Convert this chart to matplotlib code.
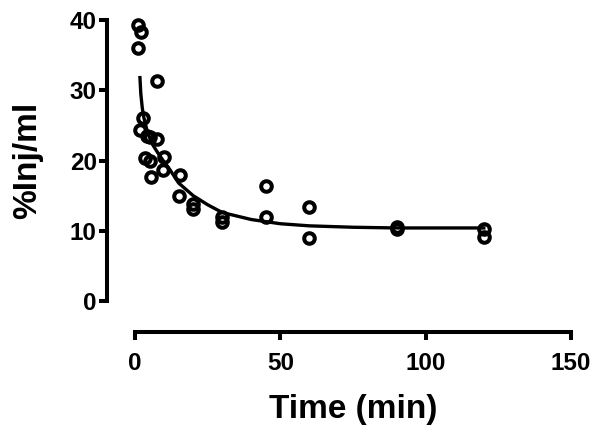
import numpy as np
import matplotlib
matplotlib.use("Agg")
import matplotlib.pyplot as plt

plt.rcParams['font.family'] = ['Liberation Sans', 'DejaVu Sans']
plt.rcParams['font.weight'] = 'bold'

# measured points (time in min, %Inj/ml)
time_pts = [1, 2, 1, 7.5, 2.7, 1.7, 4, 5, 7.5, 3.5, 5, 10, 5.5, 9.6, 15.5, 15,
            20, 20, 30, 30, 45, 45, 60, 60, 90, 90, 120, 120]
inj_pts = [39.3, 38.3, 36.0, 31.3, 26.0, 24.4, 23.5, 23.4, 23.0, 20.4, 20.0, 20.5,
           17.7, 18.6, 18.0, 14.9, 13.8, 13.1, 12.0, 11.3, 16.4, 12.0, 13.4, 9.0,
           10.6, 10.2, 10.3, 9.1]

# fitted curve
fit_t = [1.7, 2.0, 2.5, 3, 4, 5, 6, 8, 10, 12, 15, 20, 25, 30, 40, 45, 50, 60,
         75, 90, 105, 120]
fit_y = [31.8, 29.5, 27.5, 26.2, 24.5, 23.3, 22.3, 21.0, 19.8, 18.7, 16.8, 15.0,
         13.7, 12.6, 11.6, 11.3, 11.0, 10.7, 10.5, 10.4, 10.4, 10.4]

x_ticks = [0, 50, 100, 150]
y_ticks = [0, 10, 20, 30, 40]

fig = plt.figure(figsize=(6, 4.36), dpi=100)
ax = fig.add_axes([0.225, 0.3096, 0.7267, 0.6445])

ax.plot(fit_t, fit_y, color='black', linewidth=2.4, clip_on=False, zorder=2)
ax.plot(time_pts, inj_pts, linestyle='none', marker='o', markersize=7.6,
        markerfacecolor='none', markeredgecolor='black', markeredgewidth=2.9,
        clip_on=False, zorder=3)

ax.set_xlim(0, 150)
ax.set_ylim(0, 40)
ax.set_xticks(x_ticks)
ax.set_yticks(y_ticks)

for side in ['top', 'right']:
    ax.spines[side].set_visible(False)
ax.spines['left'].set_position(('outward', 20))
ax.spines['bottom'].set_position(('outward', 22))
ax.spines['left'].set_linewidth(2.9)
ax.spines['bottom'].set_linewidth(2.9)
ax.tick_params(axis='both', width=2.9, length=5.5, labelsize=17.5)
ax.tick_params(axis='x', pad=9)
ax.tick_params(axis='y', pad=2)

ax.set_xlabel('Time (min)', fontsize=24, fontweight='bold', labelpad=14)
ax.set_ylabel('%Inj/ml', fontsize=24, fontweight='bold', labelpad=19)

fig.savefig('out.png', dpi=100)
